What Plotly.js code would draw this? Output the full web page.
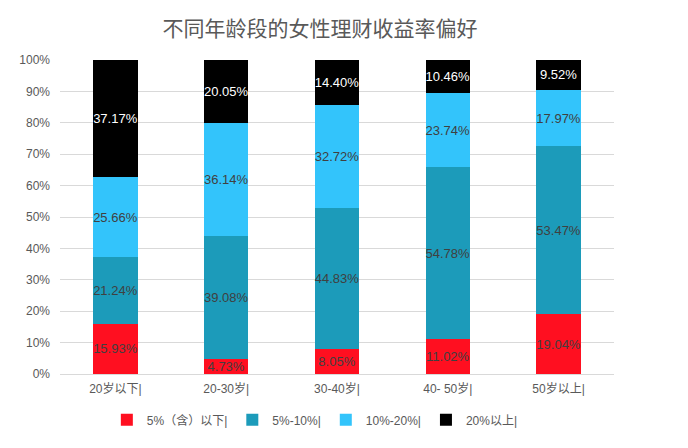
<!DOCTYPE html>
<html>
<head>
<meta charset="utf-8">
<script src="https://cdn.plot.ly/plotly-3.0.1.min.js"></script>
<style>html,body{margin:0;padding:0;background:#fff;}#chart{width:688px;height:448px;}</style>
</head>
<body>
<div id="chart"></div>
<script>
const categories = ["20岁以下|", "20-30岁|", "30-40岁|", "40- 50岁|", "50岁以上|"];
const seriesNames = ["5%（含）以下|", "5%-10%|", "10%-20%|", "20%以上|"];
const s1 = [15.93, 4.73, 8.05, 11.02, 19.04];
const s2 = [21.24, 39.08, 44.83, 54.78, 53.47];
const s3 = [25.66, 36.14, 32.72, 23.74, 17.97];
const s4 = [37.17, 20.05, 14.40, 10.46, 9.52];
const yTicks = [0, 10, 20, 30, 40, 50, 60, 70, 80, 90, 100];

const colors = ["#FF0F20", "#1C9BBA", "#33C4FB", "#000000"];
const textColors = ["#404040", "#404040", "#404040", "#FFFFFF"];
const FONT = "Arial, 'Liberation Sans', 'Noto Sans CJK SC', sans-serif";

const allSeries = [s1, s2, s3, s4];
const traces = allSeries.map((vals, i) => ({
  type: "bar",
  name: seriesNames[i],
  x: categories,
  y: vals,
  text: vals.map(v => v.toFixed(2) + "%"),
  textposition: "inside",
  insidetextanchor: "middle",
  textangle: 0,
  constraintext: "none",
  insidetextfont: {family: FONT, size: 13, color: textColors[i]},
  marker: {color: colors[i], line: {width: 0}},
  hoverinfo: "skip"
}));

const layout = {
  width: 688,
  height: 448,
  barmode: "stack",
  bargap: 0.6,
  paper_bgcolor: "#FFFFFF",
  plot_bgcolor: "#FFFFFF",
  margin: {l: 60, r: 74, t: 60, b: 74},
  font: {family: FONT, size: 12, color: "#595959"},
  title: {
    text: "不同年龄段的女性理财收益率偏好",
    font: {family: "'Noto Sans CJK SC', sans-serif", size: 21, color: "#595959"},
    xref: "container", x: 0.465, xanchor: "center",
    yref: "container", y: 0.935, yanchor: "middle"
  },
  xaxis: {
    type: "category",
    showgrid: false,
    showline: false,
    ticks: "",
    ticklabelstandoff: 6,
    tickfont: {family: FONT, size: 12, color: "#595959"},
    fixedrange: true
  },
  yaxis: {
    range: [0, 100],
    tickvals: yTicks,
    ticktext: yTicks.map(v => v + "%"),
    showgrid: true,
    gridcolor: "#D9D9D9",
    gridwidth: 1,
    zeroline: true,
    zerolinecolor: "#D9D9D9",
    showline: false,
    ticks: "",
    ticklabelstandoff: 9,
    tickfont: {family: FONT, size: 12, color: "#595959"},
    fixedrange: true
  },
  legend: {
    orientation: "h",
    x: 0.46, xanchor: "center",
    y: -0.146, yanchor: "middle",
    font: {family: FONT, size: 12, color: "#595959"},
    traceorder: "normal",
    itemwidth: 30
  },
  showlegend: true
};

Plotly.newPlot("chart", traces, layout, {displayModeBar: false, staticPlot: true});
</script>
</body>
</html>
